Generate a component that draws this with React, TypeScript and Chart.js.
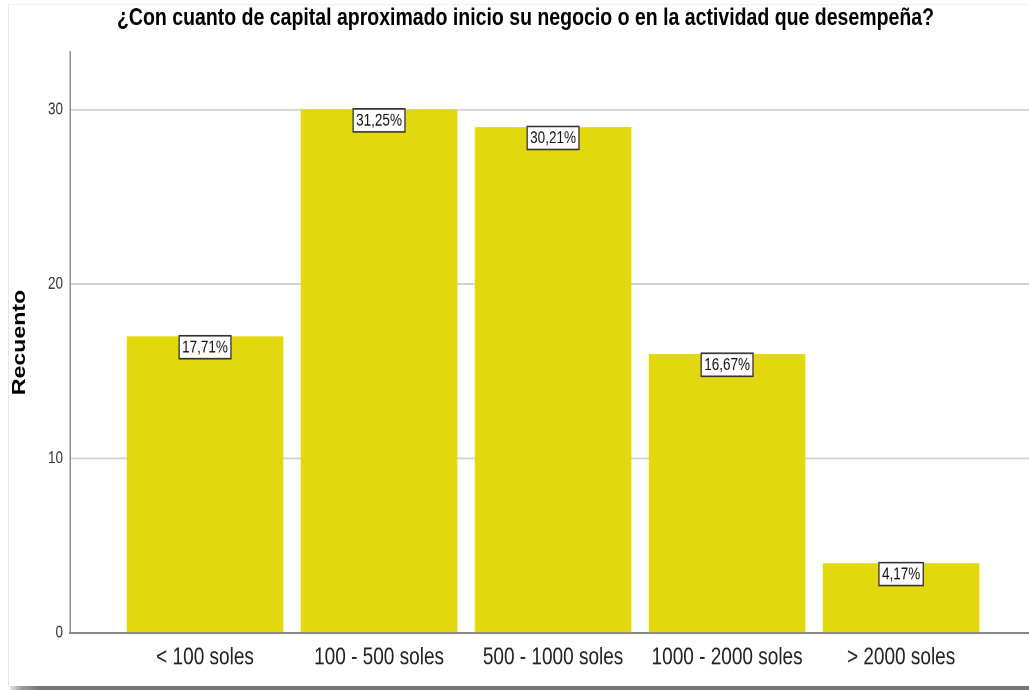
import React, { useEffect, useRef } from 'react';
import { Chart, registerables } from 'chart.js';

Chart.register(...registerables);

const categories = ['< 100 soles', '100 - 500 soles', '500 - 1000 soles', '1000 - 2000 soles', '> 2000 soles'];
const counts = [17, 30, 29, 16, 4];
const yTicks = [0, 10, 20, 30];
const yMax = 33.3;
const xMin = -0.776;
const xMax = 4.735;
const titleText = '¿Con cuanto de capital aproximado inicio su negocio o en la actividad que desempeña?';
const yTitleText = 'Recuento';

const W = 1029;
const H = 690;
const STRETCH = 1.25;
const CH = H / STRETCH;
const FONT = '"Liberation Sans", Arial, sans-serif';

const pctPlugin = {
  id: 'pctLabels',
  afterDatasetsDraw(chart: any) {
    const ctx = chart.ctx as CanvasRenderingContext2D;
    const meta = chart.getDatasetMeta(0);
    const total = counts.reduce((a, b) => a + b, 0);
    ctx.save();
    ctx.font = `13.5px ${FONT}`;
    ctx.textAlign = 'center';
    ctx.textBaseline = 'middle';
    meta.data.forEach((bar: any, i: number) => {
      const text = ((counts[i] / total) * 100).toFixed(2).replace('.', ',') + '%';
      const w = ctx.measureText(text).width + 6;
      const h = 18.4;
      const x = bar.x;
      const top = bar.y - 0.5;
      ctx.fillStyle = '#ffffff';
      ctx.fillRect(x - w / 2, top, w, h);
      ctx.strokeStyle = '#333333';
      ctx.lineWidth = 1.3;
      ctx.strokeRect(x - w / 2, top, w, h);
      ctx.fillStyle = '#111111';
      ctx.fillText(text, x, top + h / 2 + 0.5);
    });
    ctx.restore();
  },
};

export default function App() {
  const ref = useRef<HTMLCanvasElement>(null);

  useEffect(() => {
    const chart = new Chart(ref.current as HTMLCanvasElement, {
      type: 'bar',
      data: {
        datasets: [
          {
            data: counts.map((c, i) => ({ x: i, y: c })),
            backgroundColor: '#E2D80E',
            borderWidth: 0,
            barPercentage: 0.9,
            categoryPercentage: 1,
          },
        ],
      },
      options: {
        responsive: false,
        devicePixelRatio: 2,
        animation: false,
        layout: { padding: { left: 22, right: 0, top: 0, bottom: 0 } },
        plugins: {
          legend: { display: false },
          tooltip: { enabled: false },
          title: {
            display: true,
            text: titleText,
            color: '#000000',
            font: { family: FONT, size: 19.5, weight: 'bold' },
            padding: { top: 2.7, bottom: 15.5 },
          },
        },
        scales: {
          x: {
            type: 'linear',
            min: xMin,
            max: xMax,
            offset: false,
            afterBuildTicks: (axis: any) => {
              axis.ticks = categories.map((_, i) => ({ value: i }));
            },
            afterFit: (axis: any) => {
              axis.height = CH - 506.4;
            },
            grid: { display: false, drawTicks: false, offset: false },
            border: { display: true, color: '#858585', width: 1.6 },
            ticks: {
              callback: (v: any) => categories[v] ?? '',
              font: { family: FONT, size: 19 },
              color: '#222222',
              padding: 8.6,
              maxRotation: 0,
              autoSkip: false,
            },
          },
          y: {
            min: 0,
            max: yMax,
            afterBuildTicks: (axis: any) => {
              axis.ticks = yTicks.map((v) => ({ value: v }));
            },
            afterFit: (axis: any) => {
              axis.width = 48;
            },
            grid: {
              drawTicks: false,
              color: (c: any) => (c.tick && c.tick.value === 0 ? 'rgba(0,0,0,0)' : '#d2d2d2'),
              lineWidth: 1.5,
            },
            border: { display: true, color: '#8f8f8f', width: 1.5 },
            ticks: { font: { family: FONT, size: 13.5 }, color: '#333333', padding: 7 },
            title: {
              display: true,
              text: yTitleText,
              color: '#000000',
              font: { family: FONT, size: 18.5, weight: 'bold' },
              padding: { top: -2 - (18.5 * 1.2) / 2, bottom: 0 },
            },
          },
        },
      },
      plugins: [pctPlugin],
    } as any);
    return () => chart.destroy();
  }, []);

  return (
    <div style={{ position: 'fixed', left: 0, top: 0, width: W, height: H, background: '#ffffff', overflow: 'hidden' }}>
      <div
        style={{
          position: 'absolute',
          left: 8,
          top: 4,
          right: 0,
          bottom: 3,
          borderLeft: '1px solid #e6e6e6',
          borderTop: '1px solid #efefef',
        }}
      />
      <div
        style={{
          position: 'absolute',
          left: 10,
          right: 0,
          bottom: 0,
          height: 4,
          background: 'linear-gradient(to right, #e2e2e2 0px, #9a9a9a 12px, #777777 30px, #777777 100%)',
        }}
      />
      <canvas
        ref={ref}
        width={W}
        height={CH}
        style={{
          position: 'absolute',
          left: 0,
          top: 0,
          width: W,
          height: CH,
          transform: `scaleY(${STRETCH})`,
          transformOrigin: '0 0',
        }}
      />
    </div>
  );
}
